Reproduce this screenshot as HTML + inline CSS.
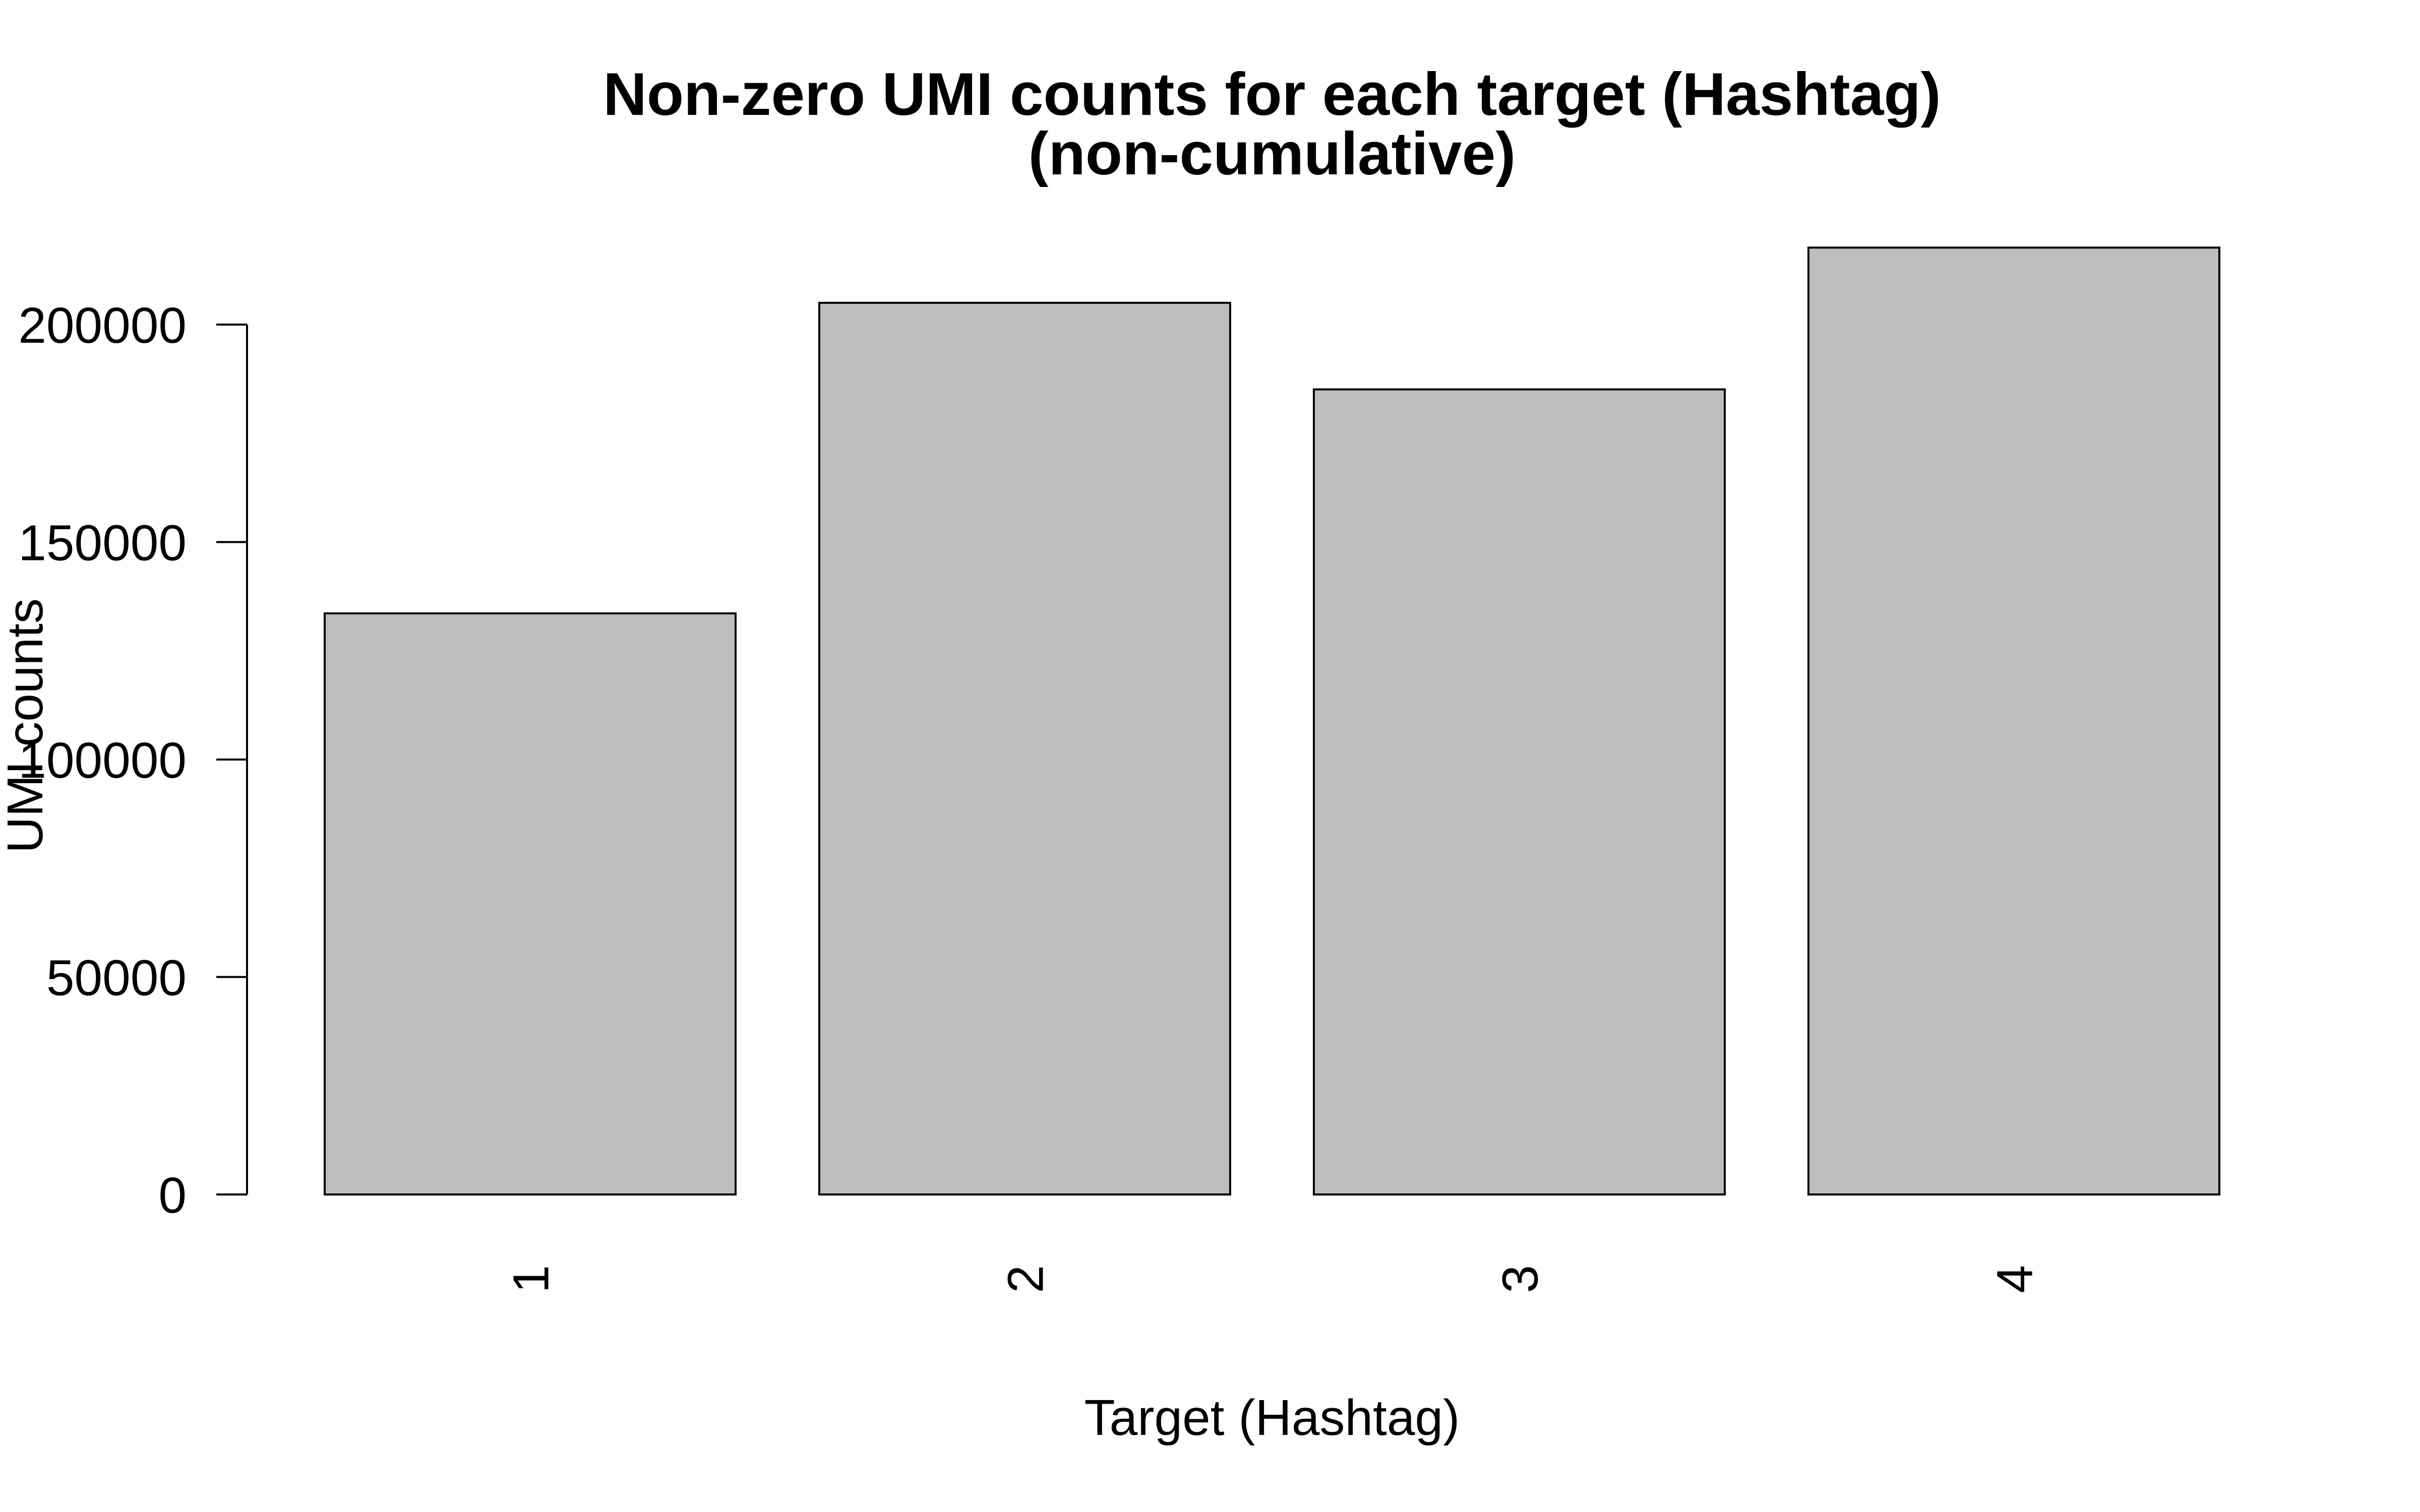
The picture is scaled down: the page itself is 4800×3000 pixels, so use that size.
<!DOCTYPE html>
<html><head><meta charset="utf-8"><style>html,body{margin:0;padding:0;background:#fff}svg{display:block}text{font-family:"Liberation Sans",sans-serif;fill:#000}</style></head>
<body>
<svg id="chart" width="4800" height="3000" viewBox="0 0 4800 3000" xmlns="http://www.w3.org/2000/svg">
<rect width="4800" height="3000" fill="#fff"/>
<text x="2523" y="228" text-anchor="middle" font-size="120" font-weight="bold">Non-zero UMI counts for each target (Hashtag)</text>
<text x="2523" y="346" text-anchor="middle" font-size="120" font-weight="bold">(non-cumulative)</text>
<g id="axes"></g>
<g id="bars"></g>
<text x="2523" y="2847" text-anchor="middle" font-size="100">Target (Hashtag)</text>
<text x="0" y="0" text-anchor="middle" font-size="100" transform="translate(84,1440) rotate(-90)">UMI counts</text>
</svg>
<script>
const categories = ["1", "2", "3", "4"];
const values = [133600, 205000, 185100, 217700];
const yTicks = [0, 50000, 100000, 150000, 200000];
const yTickLabels = ["0", "50000", "100000", "150000", "200000"];

const NS = "http://www.w3.org/2000/svg";
const y0 = 2370, yTop = 644;
function yScale(v){ return y0 - (v/200000)*(y0-yTop); }
const barW = 815, firstLeft = 644, step = 981;
function xLeft(i){ return firstLeft + i*step; }
function mk(tag, attrs){ const e=document.createElementNS(NS,tag); for(const k in attrs) e.setAttribute(k,attrs[k]); return e; }

const axes = document.getElementById('axes');
const axisX = 490;
const axisLine = mk('line',{x1:axisX,x2:axisX,y1:yScale(yTicks[0]),y2:yScale(yTicks[yTicks.length-1]),stroke:'#000','stroke-width':4});


axes.appendChild(axisLine);
yTicks.forEach((t,i)=>{
  const y = yScale(t);
  const tk = mk('line',{x1:axisX-61,x2:axisX,y1:y,y2:y,stroke:'#000','stroke-width':4});
  
  
  axes.appendChild(tk);
  const lb = mk('text',{x:370,y:y+36,'text-anchor':'end','font-size':100});
  lb.textContent = yTickLabels[i];
  
  
  axes.appendChild(lb);
});

const bars = document.getElementById('bars');
values.forEach((v,i)=>{
  const x = xLeft(i), y = yScale(v);
  const r = mk('rect',{x:x,y:y,width:barW,height:y0-y,fill:'#bebebe',stroke:'#000','stroke-width':4});
  
  
  bars.appendChild(r);
  const cx = x + barW/2;
  const lb = mk('text',{x:0,y:0,'text-anchor':'end','font-size':100,transform:`translate(${cx+36},2510) rotate(-90)`});
  lb.textContent = categories[i];
  
  
  bars.appendChild(lb);
});
</script>
</body></html>
